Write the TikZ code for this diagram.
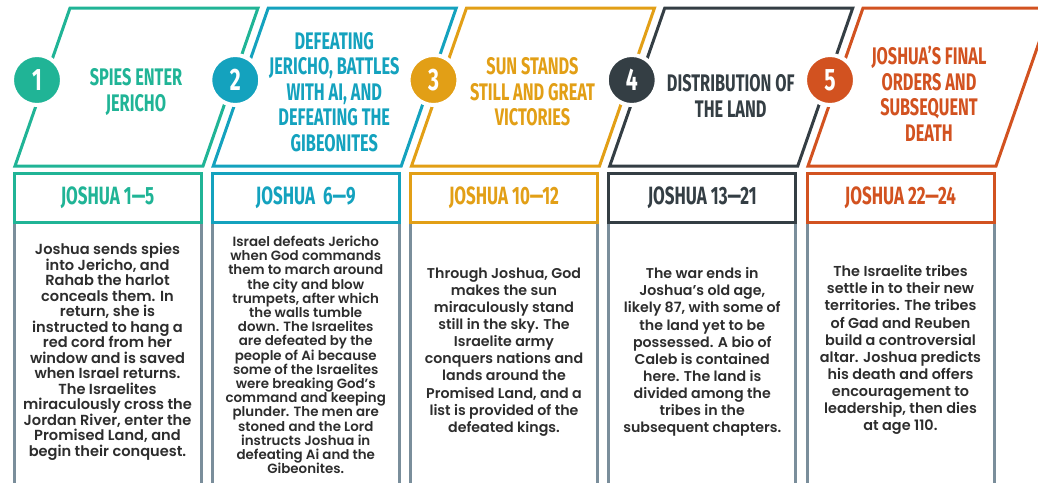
\documentclass[tikz,border=0pt]{standalone}
\usepackage{fontspec}
\setmainfont{Poppins}[BoldFont={Poppins SemiBold}]
\newfontfamily\headfont[FakeStretch=0.68]{Fira Sans}
\definecolor{stepone}{RGB}{32,180,150}
\definecolor{steptwo}{RGB}{20,162,190}
\definecolor{stepthree}{RGB}{226,159,22}
\definecolor{stepfour}{RGB}{52,62,68}
\definecolor{stepfive}{RGB}{210,82,32}
\definecolor{sidegray}{RGB}{122,142,155}
\definecolor{bodytext}{RGB}{45,45,45}
\begin{document}
\begin{tikzpicture}[x=1pt,y=-1pt,line width=3pt,
title/.style={align=center,font=\headfont\bfseries\fontsize{24}{25.5}\selectfont},
badge/.style={circle,draw=white,line width=4pt,minimum size=50pt,inner sep=0pt,text=white,font=\headfont\bfseries\fontsize{31}{31}\selectfont},
refbox/.style={draw,rectangle,fill=white,outer sep=0pt,minimum width=187pt,minimum height=49pt,font=\headfont\bfseries\fontsize{25}{25}\selectfont},
bodyside/.style={draw=sidegray,line width=3pt},
story/.style={align=center,text=bodytext,font=\bfseries\fontsize{14.6}{15.5}\selectfont}]
\clip (0,0) rectangle (1038,482);
% column 1
\draw[stepone] (15,166) -- (203,166) -- (258,8) -- (70,8) -- cycle;
\node[badge,fill=stepone] (num1) at (37,80) {1};
\node[title,text=stepone] (head1) at (136,92) {SPIES ENTER\\JERICHO};
\draw[bodyside] (14,222) -- ++(0,270) (201,222) -- ++(0,270);
\node[refbox,draw=stepone,text=stepone] (ref1) at (107.5,197.5) {JOSHUA 1—5};
\node[story] (body1) at (107.5,352) {Joshua sends spies\\into Jericho, and\\Rahab the harlot\\conceals them. In\\return, she is\\instructed to hang a\\red cord from her\\window and is saved\\when Israel returns.\\The Israelites\\miraculously cross the\\Jordan River, enter the\\Promised Land, and\\begin their conquest.};
% column 2
\draw[steptwo] (213.25,166) -- (401.25,166) -- (456.25,8) -- (268.25,8) -- cycle;
\node[badge,fill=steptwo] (num2) at (235.25,80) {2};
\node[title,text=steptwo] (head2) at (334.25,92) {DEFEATING\\JERICHO, BATTLES\\WITH AI, AND\\DEFEATING THE\\GIBEONITES};
\draw[bodyside] (212.25,222) -- ++(0,270) (399.25,222) -- ++(0,270);
\node[refbox,draw=steptwo,text=steptwo] (ref2) at (305.75,197.5) {JOSHUA\ \ 6—9};
\node[story,font=\bfseries\fontsize{13.4}{14.2}\selectfont] (body2) at (305.75,355) {Israel defeats Jericho\\when God commands\\them to march around\\the city and blow\\trumpets, after which\\the walls tumble\\down. The Israelites\\are defeated by the\\people of Ai because\\some of the Israelites\\were breaking God’s\\command and keeping\\plunder. The men are\\stoned and the Lord\\instructs Joshua in\\defeating Ai and the\\Gibeonites.};
% column 3
\draw[stepthree] (411.5,166) -- (599.5,166) -- (654.5,8) -- (466.5,8) -- cycle;
\node[badge,fill=stepthree] (num3) at (433.5,80) {3};
\node[title,text=stepthree] (head3) at (532.5,92) {SUN STANDS\\STILL AND GREAT\\VICTORIES};
\draw[bodyside] (410.5,222) -- ++(0,270) (597.5,222) -- ++(0,270);
\node[refbox,draw=stepthree,text=stepthree] (ref3) at (504,197.5) {JOSHUA 10—12};
\node[story,font=\bfseries\fontsize{14.2}{17.1}\selectfont] (body3) at (504,352) {Through Joshua, God\\makes the sun\\miraculously stand\\still in the sky. The\\Israelite army\\conquers nations and\\lands around the\\Promised Land, and a\\list is provided of the\\defeated kings.};
% column 4
\draw[stepfour] (609.75,166) -- (797.75,166) -- (852.75,8) -- (664.75,8) -- cycle;
\node[badge,fill=stepfour] (num4) at (631.75,80) {4};
\node[title,text=stepfour] (head4) at (730.75,96) {DISTRIBUTION OF\\THE LAND};
\draw[bodyside] (608.75,222) -- ++(0,270) (795.75,222) -- ++(0,270);
\node[refbox,draw=stepfour,text=stepfour] (ref4) at (702.25,197.5) {JOSHUA 13—21};
\node[story,font=\bfseries\fontsize{14.2}{17.1}\selectfont] (body4) at (702.25,352) {The war ends in\\Joshua’s old age,\\likely 87, with some of\\the land yet to be\\possessed. A bio of\\Caleb is contained\\here. The land is\\divided among the\\tribes in the\\subsequent chapters.};
% column 5
\draw[stepfive] (808,166) -- (996,166) -- (1051,8) -- (863,8) -- cycle;
\node[badge,fill=stepfive] (num5) at (830,80) {5};
\node[title,text=stepfive] (head5) at (929,94) {JOSHUA’S FINAL\\ORDERS AND\\SUBSEQUENT\\DEATH};
\draw[bodyside] (807,222) -- ++(0,270) (994,222) -- ++(0,270);
\node[refbox,draw=stepfive,text=stepfive] (ref5) at (900.5,197.5) {JOSHUA 22—24};
\node[story,font=\bfseries\fontsize{14.4}{17.1}\selectfont] (body5) at (900.5,350) {The Israelite tribes\\settle in to their new\\territories. The tribes\\of Gad and Reuben\\build a controversial\\altar. Joshua predicts\\his death and offers\\encouragement to\\leadership, then dies\\at age 110.};
\end{tikzpicture}
\end{document}
